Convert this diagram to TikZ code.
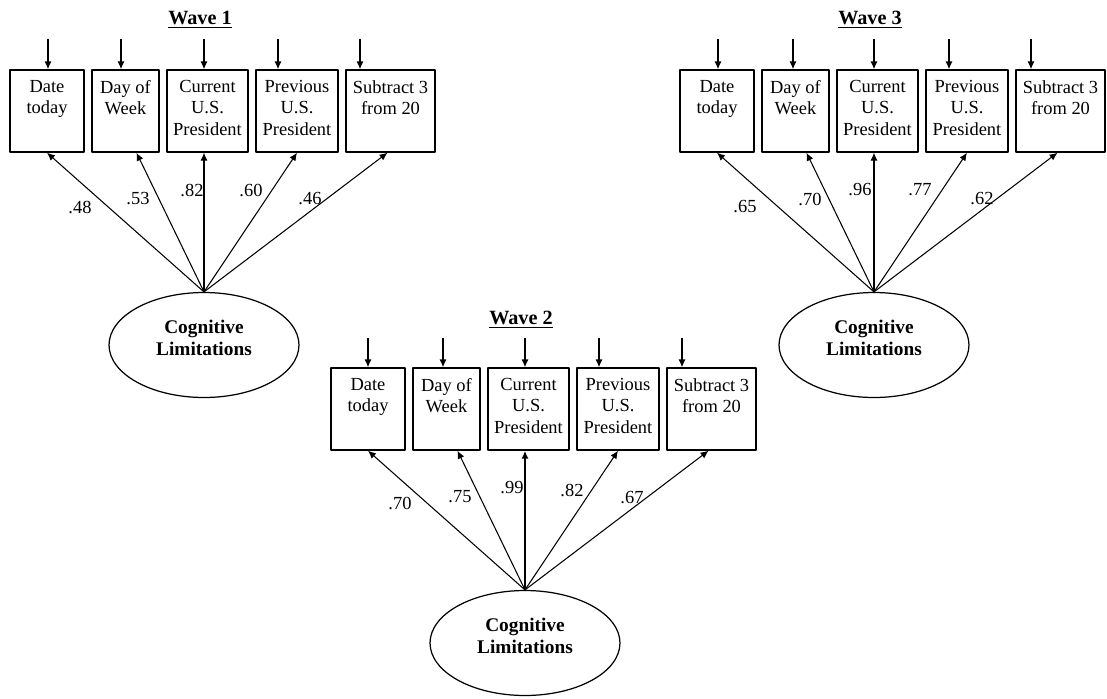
\documentclass[tikz,border=0pt]{standalone}
\usepackage{fontspec}
\setmainfont{Liberation Serif}
\usepackage{tikz}
\usetikzlibrary{shapes.geometric, arrows.meta}

\begin{document}
\begin{tikzpicture}[x=0.02cm, y=-0.02cm, line join=round,
  item/.style={draw, line width=0.8pt, rectangle, align=center, minimum height=1.64cm, inner sep=1pt, font=\fontsize{10.5}{12}\selectfont},
  latent/.style={draw, line width=0.7pt, ellipse, align=center, minimum width=3.8cm, minimum height=2.1cm, inner sep=1pt, font=\fontsize{11}{12.5}\selectfont\bfseries},
  wave/.style={font=\fontsize{11.5}{13}\selectfont\bfseries},
  coef/.style={font=\fontsize{10.5}{12}\selectfont, inner sep=1pt},
  err/.style={-{Latex[length=4.5pt, width=4pt]}, line width=0.7pt},
  load/.style={-{Latex[length=4.5pt, width=4pt]}, line width=0.6pt}]

\useasboundingbox (0,0) rectangle (1107,698);

% Wave 1
\begin{scope}
\node[wave] (w1t) at (200,20) {\underline{Wave 1}};
\node[item, minimum width=1.48cm] (w1a) at (47,111) {Date\\today\\\strut};
\node[item, minimum width=1.34cm] (w1b) at (125.5,111) {Day of\\Week\\\strut};
\node[item, minimum width=1.62cm] (w1c) at (207.5,111) {Current\\U.S.\\President\strut};
\node[item, minimum width=1.64cm] (w1d) at (297,111) {Previous\\U.S.\\President\strut};
\node[item, minimum width=1.78cm] (w1e) at (390.5,111) {Subtract 3\\from 20\\\strut};
\node[latent] (w1l) at (204,345) {Cognitive\\Limitations\\[-4pt]\mbox{}};

\coordinate (w1ea) at (48,39);
\coordinate (w1eb) at (121,39);
\coordinate (w1ec) at (204,39);
\coordinate (w1ed) at (278,39);
\coordinate (w1ee) at (360,39);
\draw[err] (w1ea) -- (w1ea |- w1a.north);
\draw[err] (w1eb) -- (w1eb |- w1b.north);
\draw[err] (w1ec) -- (w1ec |- w1c.north);
\draw[err] (w1ed) -- (w1ed |- w1d.north);
\draw[err] (w1ee) -- (w1ee |- w1e.north);

\draw[load] (w1l.north) -- (w1a.south);
\draw[load] (w1l.north) -- ([xshift=0.22cm]w1b.south);
\draw[load] (w1l.north) -- (w1l.north |- w1c.south);
\draw[load] (w1l.north) -- (w1d.south);
\draw[load] (w1l.north) -- ([xshift=-0.06cm]w1e.south);

\node[coef] (w1na) at (80,207) {.48};
\node[coef] (w1nb) at (138,199) {.53};
\node[coef] (w1nc) at (192,190) {.82};
\node[coef] (w1nd) at (251,190) {.60};
\node[coef] (w1ne) at (310,199) {.46};
\end{scope}

% Wave 2
\begin{scope}[shift={(321,298)}]
\node[wave] (w2t) at (200,22) {\underline{Wave 2}};
\node[item, minimum width=1.48cm] (w2a) at (47,111) {Date\\today\\\strut};
\node[item, minimum width=1.34cm] (w2b) at (125.5,111) {Day of\\Week\\\strut};
\node[item, minimum width=1.62cm] (w2c) at (207.5,111) {Current\\U.S.\\President\strut};
\node[item, minimum width=1.64cm] (w2d) at (297,111) {Previous\\U.S.\\President\strut};
\node[item, minimum width=1.78cm] (w2e) at (390.5,111) {Subtract 3\\from 20\\\strut};
\node[latent] (w2l) at (204,345) {Cognitive\\Limitations\\[-4pt]\mbox{}};

\coordinate (w2ea) at (47,40);
\coordinate (w2eb) at (122,40);
\coordinate (w2ec) at (204,40);
\coordinate (w2ed) at (278,40);
\coordinate (w2ee) at (361,40);
\draw[err] (w2ea) -- (w2ea |- w2a.north);
\draw[err] (w2eb) -- (w2eb |- w2b.north);
\draw[err] (w2ec) -- (w2ec |- w2c.north);
\draw[err] (w2ed) -- (w2ed |- w2d.north);
\draw[err] (w2ee) -- (w2ee |- w2e.north);

\draw[load] (w2l.north) -- (w2a.south);
\draw[load] (w2l.north) -- ([xshift=0.22cm]w2b.south);
\draw[load, line width=1pt] (w2l.north) -- (w2l.north |- w2c.south);
\draw[load] (w2l.north) -- (w2d.south);
\draw[load] (w2l.north) -- ([xshift=-0.06cm]w2e.south);

\node[coef] (w2na) at (79,205) {.70};
\node[coef] (w2nb) at (139,199) {.75};
\node[coef] (w2nc) at (191,190) {.99};
\node[coef] (w2nd) at (251,192) {.82};
\node[coef] (w2ne) at (311,200) {.67};
\end{scope}

% Wave 3
\begin{scope}[shift={(670,0)}]
\node[wave] (w3t) at (200,20) {\underline{Wave 3}};
\node[item, minimum width=1.48cm] (w3a) at (47,111) {Date\\today\\\strut};
\node[item, minimum width=1.34cm] (w3b) at (125.5,111) {Day of\\Week\\\strut};
\node[item, minimum width=1.62cm] (w3c) at (207.5,111) {Current\\U.S.\\President\strut};
\node[item, minimum width=1.64cm] (w3d) at (297,111) {Previous\\U.S.\\President\strut};
\node[item, minimum width=1.78cm] (w3e) at (390.5,111) {Subtract 3\\from 20\\\strut};
\node[latent] (w3l) at (204,345) {Cognitive\\Limitations\\[-4pt]\mbox{}};

\coordinate (w3ea) at (48,39);
\coordinate (w3eb) at (123,39);
\coordinate (w3ec) at (204,39);
\coordinate (w3ed) at (279,39);
\coordinate (w3ee) at (361,39);
\draw[err] (w3ea) -- (w3ea |- w3a.north);
\draw[err] (w3eb) -- (w3eb |- w3b.north);
\draw[err] (w3ec) -- (w3ec |- w3c.north);
\draw[err] (w3ed) -- (w3ed |- w3d.north);
\draw[err] (w3ee) -- (w3ee |- w3e.north);

\draw[load] (w3l.north) -- (w3a.south);
\draw[load] (w3l.north) -- ([xshift=0.22cm]w3b.south);
\draw[load] (w3l.north) -- (w3l.north |- w3c.south);
\draw[load] (w3l.north) -- (w3d.south);
\draw[load] (w3l.north) -- ([xshift=-0.06cm]w3e.south);

\node[coef] (w3na) at (75,207) {.65};
\node[coef] (w3nb) at (140,199) {.70};
\node[coef] (w3nc) at (190,190) {.96};
\node[coef] (w3nd) at (250,190) {.77};
\node[coef] (w3ne) at (312,199) {.62};
\end{scope}

\end{tikzpicture}
\end{document}
